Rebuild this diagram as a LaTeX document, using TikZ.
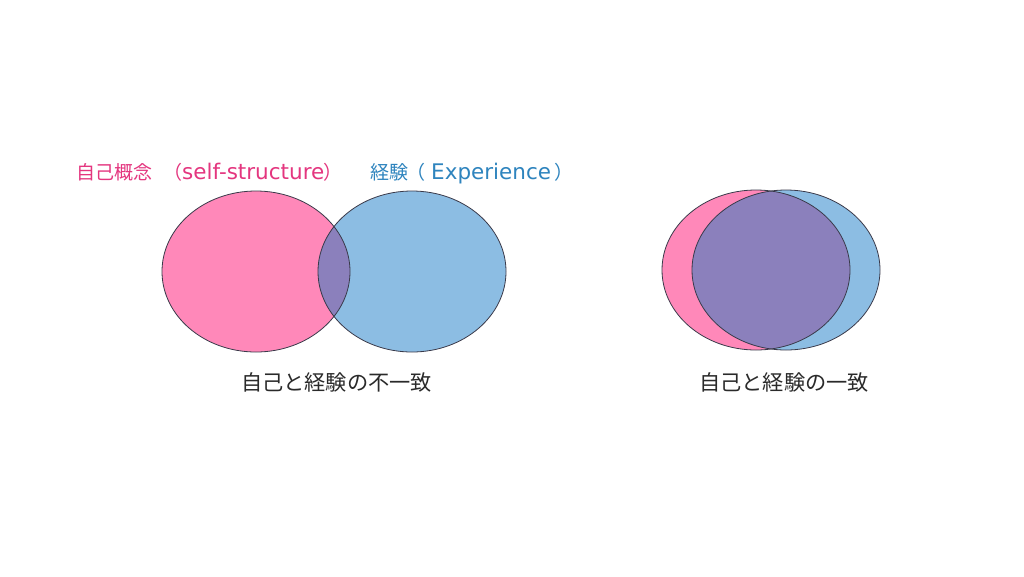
\documentclass[tikz,border=0pt]{standalone}
\usepackage{fontspec}
\newfontfamily\jp{Noto Sans CJK JP}
\newfontfamily\dv{DejaVu Sans}
\definecolor{pinkfill}{HTML}{FF88B9}
\definecolor{bluefill}{HTML}{8CBDE3}
\definecolor{overlap}{HTML}{8B80BC}
\definecolor{edge}{HTML}{3A3A4A}
\definecolor{pinktext}{HTML}{E4367F}
\definecolor{bluetext}{HTML}{2E84BE}
\definecolor{captext}{HTML}{2A2A2A}
\newcommand{\cjkt}{\jp\fontsize{19}{21}\selectfont}
\newcommand{\latt}{\dv\fontsize{21.5}{23}\selectfont}
\tikzset{
  outline/.style={draw=edge, line width=0.8pt},
  toplabel/.style={inner sep=0pt, anchor=base west},
  caption/.style={font=\jp\fontsize{21.2}{23}\selectfont, inner sep=0pt, text=captext},
}
\begin{document}
\begin{tikzpicture}[x=1pt,y=-1pt]
\useasboundingbox (0,0) rectangle (1024,576);
\fill[white] (0,0) rectangle (1024,576);
% left diagram
\fill[pinkfill] (256,271.5) ellipse [x radius=94, y radius=80.5];
\fill[bluefill] (412,271.5) ellipse [x radius=94, y radius=80.5];
\begin{scope}
  \clip (256,271.5) ellipse [x radius=94, y radius=80.5];
  \fill[overlap] (412,271.5) ellipse [x radius=94, y radius=80.5];
\end{scope}
\draw[outline] (256,271.5) ellipse [x radius=94, y radius=80.5];
\draw[outline] (412,271.5) ellipse [x radius=94, y radius=80.5];
% right diagram
\fill[pinkfill] (756,270) ellipse [x radius=94, y radius=80];
\fill[bluefill] (786,270) ellipse [x radius=94, y radius=80];
\begin{scope}
  \clip (756,270) ellipse [x radius=94, y radius=80];
  \fill[overlap] (786,270) ellipse [x radius=94, y radius=80];
\end{scope}
\draw[outline] (756,270) ellipse [x radius=94, y radius=80];
\draw[outline] (786,270) ellipse [x radius=94, y radius=80];
% labels
\node[toplabel, text=pinktext] (self) at (76,179)
  {{\cjkt 自己概念}\hspace{11pt}{\cjkt （}\hspace{0pt}{\latt self-structure}\hspace{-1pt}{\cjkt ）}};
\node[toplabel, text=bluetext] (exp) at (370,179)
  {{\cjkt 経験}\hspace{-2pt}{\cjkt （}\hspace{6pt}{\latt Experience}\hspace{3pt}{\cjkt ）}};
\node[caption] (mismatch) at (336.5,382) {自己と経験の不一致};
\node[caption] (match) at (784,382) {自己と経験の一致};
\end{tikzpicture}
\end{document}
